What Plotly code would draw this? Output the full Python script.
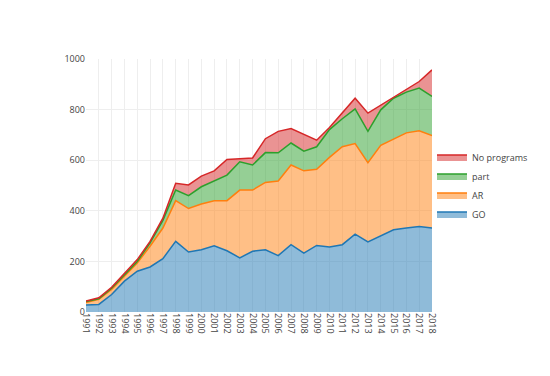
import plotly.graph_objects as go

years = list(range(1991, 2019))

go_vals = [28, 30, 69, 122, 161, 178, 211, 279, 237, 246, 262, 242, 214, 240,
           246, 223, 266, 233, 263, 257, 266, 308, 277, 301, 325, 332, 338, 332]
ar_vals = [9, 20, 20, 20, 33, 82, 121, 161, 172, 181, 178, 198, 268, 242,
           266, 295, 315, 325, 301, 354, 387, 358, 313, 358, 357, 376, 378, 365]
part_vals = [4, 2, 5, 5, 6, 13, 30, 42, 51, 68, 78, 101, 112, 99,
             118, 111, 87, 78, 89, 110, 111, 137, 124, 140, 163, 161, 169, 155]
noprog_vals = [2, 4, 4, 5, 7, 6, 9, 27, 42, 42, 40, 62, 13, 28,
               55, 85, 57, 66, 26, 8, 22, 42, 72, 18, 4, 13, 26, 105]

series = [
    ('GO', go_vals, '#1f77b4', 'rgba(31,119,180,0.5)'),
    ('AR', ar_vals, '#ff7f0e', 'rgba(255,127,14,0.5)'),
    ('part', part_vals, '#2ca02c', 'rgba(44,160,44,0.5)'),
    ('No programs', noprog_vals, '#d62728', 'rgba(214,39,40,0.5)'),
]

fig = go.Figure()
for name, vals, col, fill in series:
    fig.add_trace(go.Scatter(x=years, y=vals, name=name, mode='lines',
                             stackgroup='one', line=dict(color=col, width=1.5),
                             fillcolor=fill))

fig.update_layout(
    width=550, height=376,
    template='plotly_white',
    margin=dict(l=78, r=126, t=51, b=72),
    font=dict(family='Open Sans, verdana, arial, sans-serif', size=9, color='#444'),
    legend=dict(traceorder='reversed', x=1.0, y=0.5, yanchor='middle',
                font=dict(size=9)),
    showlegend=True,
)
fig.update_xaxes(range=[1991, 2018], dtick=1, tickangle=90,
                 gridcolor='#eeeeee', showline=False, zeroline=False)
fig.update_yaxes(range=[0, 1000], dtick=200, gridcolor='#eeeeee',
                 zeroline=False)

fig.write_html("out.html")
